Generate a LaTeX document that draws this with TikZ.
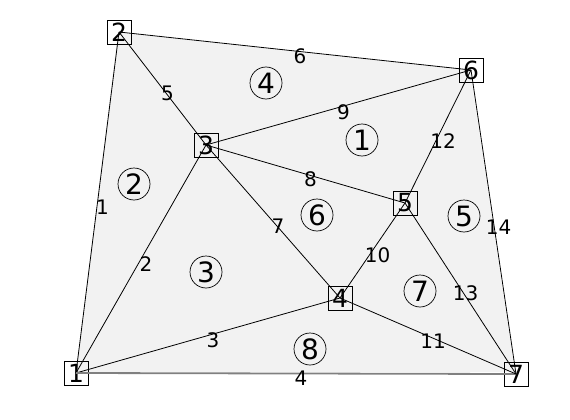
\documentclass[tikz,border=0pt]{standalone}
\usepackage{fontspec}
\setmainfont{DejaVu Sans}
\usepackage{tikz}
\definecolor{meshbg}{RGB}{242,242,242}
\definecolor{rim}{RGB}{128,128,128}

\begin{document}
\begin{tikzpicture}[x=1pt, y=-1pt,
    vert/.style={rectangle, draw, line width=0.8pt, minimum size=24pt, inner sep=0pt, font=\fontsize{25}{27}\selectfont},
    tri/.style={circle, draw, line width=0.7pt, minimum size=32pt, inner sep=0pt, font=\fontsize{28}{30}\selectfont},
    edge/.style={draw, line width=0.8pt},
    elab/.style={midway, xshift=5pt, yshift=-5pt, inner sep=0pt, font=\fontsize{20}{22}\selectfont}
]
    \useasboundingbox (0,0) rectangle (570,420);

    % Mesh outline filled
    \fill[meshbg] (76,372) -- (118,32) -- (470,70) -- (515,372) -- cycle;

    % Vertices
    \node[vert] (v1) at (76,373) {1};
    \node[vert] (v2) at (119,32) {2};
    \node[vert] (v3) at (206,145) {3};
    \node[vert] (v4) at (340,298) {4};
    \node[vert] (v5) at (405,203) {5};
    \node[vert] (v6) at (471,70) {6};
    \node[vert] (v7) at (516,374) {7};

    % Edges with their numbers
    \draw[edge] (v1.center) -- (v2.center) node[elab] {1};
    \draw[edge] (v1.center) -- (v3.center) node[elab] {2};
    \draw[edge] (v1.center) -- (v4.center) node[elab] {3};
    \draw[rim, line width=1.8pt] (v1.center) -- (v7.center) node[elab, text=black] {4};
    \draw[edge] (v2.center) -- (v3.center) node[elab] {5};
    \draw[edge] (v2.center) -- (v6.center) node[elab] {6};
    \draw[edge] (v3.center) -- (v4.center) node[elab] {7};
    \draw[edge] (v3.center) -- (v5.center) node[elab] {8};
    \draw[edge] (v3.center) -- (v6.center) node[elab] {9};
    \draw[edge] (v4.center) -- (v5.center) node[elab] {10};
    \draw[edge] (v4.center) -- (v7.center) node[elab] {11};
    \draw[edge] (v5.center) -- (v6.center) node[elab] {12};
    \draw[edge] (v5.center) -- (v7.center) node[elab] {13};
    \draw[edge] (v6.center) -- (v7.center) node[elab] {14};

    % Triangle numbers
    \node[tri] (t1) at (362,140) {1};
    \node[tri] (t2) at (134,184) {2};
    \node[tri] (t3) at (206,272) {3};
    \node[tri] (t4) at (266,83) {4};
    \node[tri] (t5) at (464,216) {5};
    \node[tri] (t6) at (317,215) {6};
    \node[tri] (t7) at (420,291) {7};
    \node[tri] (t8) at (310,349) {8};
\end{tikzpicture}
\end{document}
